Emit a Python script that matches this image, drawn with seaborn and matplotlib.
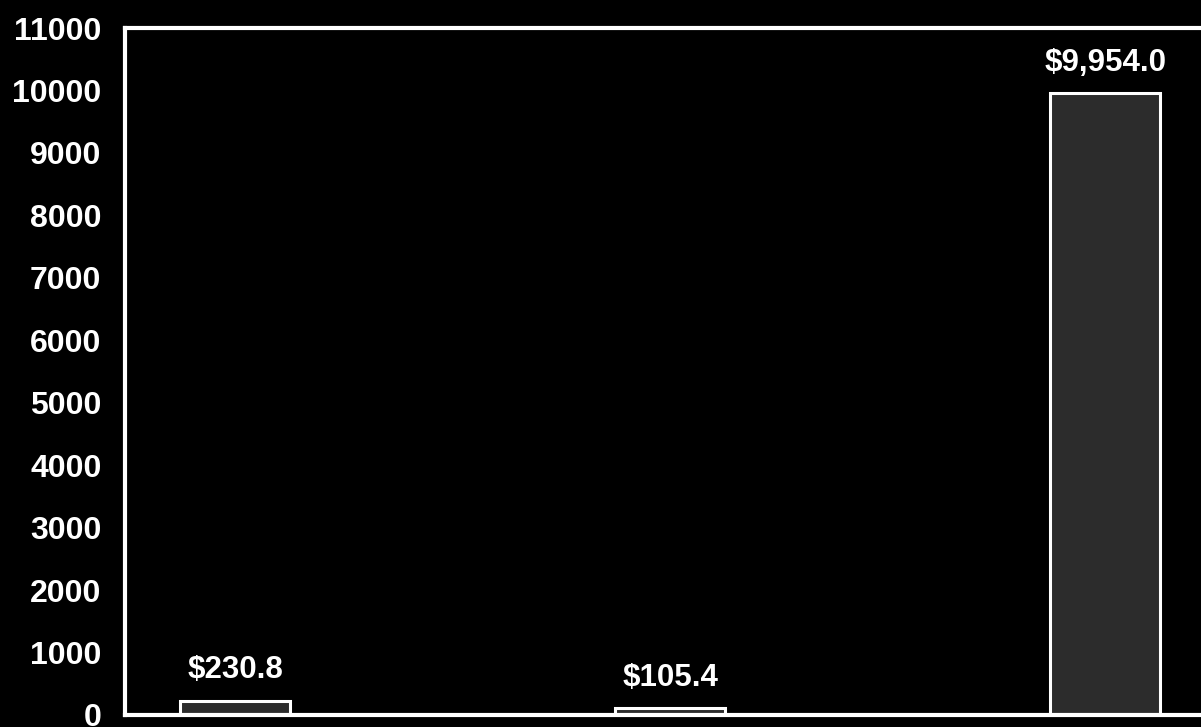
import matplotlib
matplotlib.use("Agg")
import matplotlib.pyplot as plt
import seaborn as sns
import pandas as pd

# Data
categories = ["Group A", "Group B", "Group C"]
values = [230.8, 105.4, 9954.0]
value_labels = ["$230.8", "$105.4", "$9,954.0"]
y_ticks = [0, 1000, 2000, 3000, 4000, 5000, 6000, 7000, 8000, 9000, 10000, 11000]

df = pd.DataFrame({"category": categories, "value": values})

sns.set_theme(style="dark")
plt.rcParams["font.family"] = ["Liberation Sans", "DejaVu Sans"]

fig = plt.figure(figsize=(12.01, 7.27), dpi=100, facecolor="black")
ax = fig.add_axes([125 / 1201, 12 / 727, 1 - 125 / 1201 + 0.01, (715 - 28) / 727])
ax.set_facecolor("black")

sns.barplot(data=df, x="category", y="value", ax=ax, color="#2c2c2c",
            width=0.253, edgecolor="white", linewidth=2.2, saturation=1)

for i, (v, lab) in enumerate(zip(values, value_labels)):
    ax.annotate(lab, (i, v), xytext=(0, 11), textcoords="offset points",
                ha="center", va="bottom", color="white", fontsize=22.5,
                fontweight="bold")

ax.set_ylim(0, 11000)
ax.set_xlim(-0.253, 2.248)
ax.set_yticks(y_ticks)
ax.set_yticklabels([str(t) for t in y_ticks])
ax.tick_params(axis="y", direction="in", length=9, width=1, color="white",
               pad=17, labelcolor="white", labelsize=23)
for lbl in ax.get_yticklabels():
    lbl.set_fontweight("bold")
ax.set_xticks([])
ax.set_xlabel("")
ax.set_ylabel("")
ax.grid(False)

for side in ["left", "top", "bottom"]:
    ax.spines[side].set_visible(True)
    ax.spines[side].set_color("white")
    ax.spines[side].set_linewidth(3)
ax.spines["right"].set_visible(False)

fig.savefig("out.png", dpi=100, facecolor="black")
